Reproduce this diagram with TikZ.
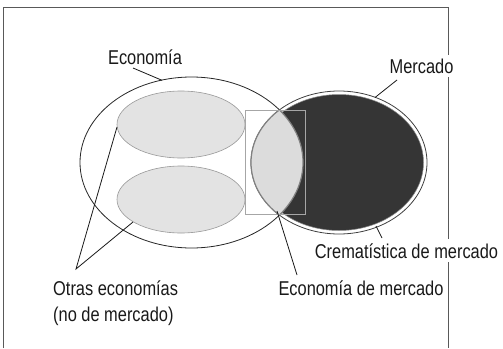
\documentclass[tikz,border=0pt]{standalone}
\usepackage{fontspec}
\setmainfont[FakeStretch=0.82]{Liberation Sans}
\definecolor{darkfill}{HTML}{353535}
\definecolor{lightfill}{HTML}{E3E3E3}
\definecolor{lensfill}{HTML}{DCDCDC}
\tikzset{
  lbl/.style={font=\fontsize{20}{26}\selectfont, text=black!90, inner sep=0pt},
  wlbl/.style={lbl, fill=white, inner xsep=2pt, inner ysep=4pt},
  leader/.style={draw=black!90, line width=0.8pt},
  subell/.style={fill=lightfill, draw=black!40, line width=0.6pt},
}
\begin{document}
\begin{tikzpicture}[x=1pt,y=-1pt]
\useasboundingbox (0,0) rectangle (503,348);
% frame
\draw[draw=black!65, line width=0.8pt] (3,348) -- (3,7) -- (448,7) -- (448,348);
% Economia ellipse
\path[fill=white, draw=black!85, line width=0.8pt] (191.5,162.5) ellipse (111.5 and 85.5);
% sub-economies
\path[subell] (181,124.5) ellipse (64 and 33.5);
\path[subell] (181,199.5) ellipse (64 and 33.5);
% Mercado ring
\path[fill=white, draw=black!75, line width=0.8pt] (339,162.5) ellipse (88 and 71.5);
\path[fill=darkfill, draw=black!45, line width=0.5pt] (339,162.5) ellipse (84.5 and 68);
% lens
\begin{scope}
  \clip (339,162.5) ellipse (88 and 71.5);
  \fill[lensfill] (191.5,162.5) ellipse (111.5 and 85.5);
  \draw[draw=black!50, line width=1.2pt] (191.5,162.5) ellipse (111.5 and 85.5);
\end{scope}
\begin{scope}
  \clip (191.5,162.5) ellipse (111.5 and 85.5);
  \draw[draw=black!50, line width=1.2pt] (339,162.5) ellipse (88 and 71.5);
\end{scope}
% highlight rectangle
\draw[draw=black!35, line width=0.6pt] (245,110) rectangle (305,214);
% anchor coordinates
\coordinate (ecoT) at (162,80.3);
\coordinate (merT) at (375,97.5);
\coordinate (merB) at (376,226);
\coordinate (lensB) at (277,211);
\coordinate (subA) at (117,127);
\coordinate (subB) at (133,222);
% labels
\node[lbl, anchor=base] (eco) at (145,64) {Economía};
\node[wlbl, anchor=base] (mer) at (421.5,73) {Mercado};
\node[wlbl, anchor=base] (cre) at (406.5,258) {Crematística de mercado};
\node[wlbl, anchor=base] (ecm) at (361,295) {Economía de mercado};
\node[lbl, anchor=base west] (otr1) at (53,295) {Otras economías};
\node[lbl, anchor=base west] (otr2) at (53,321) {(no de mercado)};
\coordinate (otrP) at (76,269);
% leaders
\draw[leader] (133,68) -- (ecoT);
\draw[leader] (397,80) -- (merT);
\draw[leader] (382,238) -- (merB);
\draw[leader] (297,275) -- (lensB);
\draw[leader] (subA) -- (otrP) -- (subB);
\end{tikzpicture}
\end{document}
